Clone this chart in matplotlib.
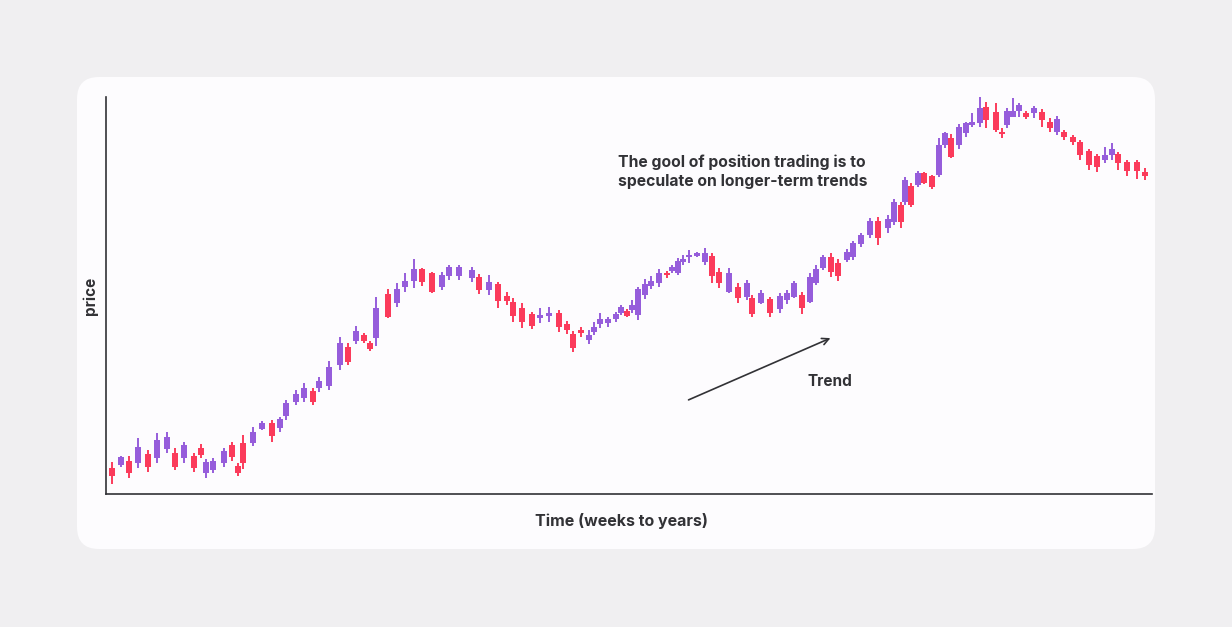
import matplotlib
matplotlib.use("Agg")
import matplotlib.pyplot as plt
from matplotlib.patches import FancyBboxPatch
from matplotlib.transforms import IdentityTransform

# time index and OHLC prices (arbitrary units)
t = [6, 15, 23, 32, 42, 51, 61, 69, 78, 88, 95, 100, 107, 118, 126, 132, 137, 147, 156, 166,
     174, 180, 190, 198, 207, 213, 223, 234, 242, 250, 258, 264, 270, 282, 291, 299, 308, 316, 326, 336,
     343, 353, 366, 373, 383, 392, 401, 407, 416, 426, 434, 443, 453, 461, 467, 475, 483, 488, 494, 502,
     510, 515, 521, 526, 532, 539, 545, 553, 561, 566, 572, 577, 583, 591, 599, 606, 613, 623, 632, 641,
     646, 655, 664, 674, 681, 688, 696, 704, 710, 717, 725, 732, 741, 747, 755, 764, 772, 782, 788, 795,
     799, 805, 812, 818, 826, 833, 839, 845, 853, 860, 866, 874, 880, 890, 896, 901, 907, 913, 920, 928,
     936, 944, 951, 958, 967, 974, 983, 991, 999, 1006, 1012, 1021, 1031, 1039]
open_ = [26, 29, 33, 31, 40, 36, 45, 41, 36, 38, 46, 21, 24, 31, 49, 28, 51, 51, 65, 71,
         66, 78, 92, 96, 103, 106, 108, 129, 147, 153, 159, 151, 156, 200, 191, 207, 213, 225, 221, 207,
         218, 218, 216, 217, 204, 210, 198, 192, 186, 180, 176, 178, 181, 170, 160, 164, 154, 162, 170, 171,
         175, 181, 183, 184, 179, 199, 208, 211, 221, 223, 221, 232, 237, 238, 232, 238, 222, 202, 207, 197,
         196, 191, 195, 185, 194, 197, 199, 192, 211, 226, 237, 231, 234, 237, 250, 259, 273, 266, 272, 289,
         292, 308, 309, 321, 318, 319, 349, 356, 349, 361, 369, 371, 387, 382, 362, 369, 377, 383, 381, 381,
         382, 372, 362, 362, 357, 352, 343, 338, 334, 339, 340, 332, 332, 322]
close = [18, 37, 21, 47, 27, 54, 57, 27, 49, 26, 39, 32, 33, 43, 37, 21, 31, 62, 71, 58,
         75, 91, 100, 106, 92, 113, 127, 151, 132, 163, 153, 145, 186, 177, 205, 213, 225, 212, 202, 219,
         227, 227, 224, 204, 212, 193, 193, 178, 172, 168, 179, 181, 167, 164, 146, 161, 159, 167, 175, 175,
         180, 187, 178, 189, 205, 210, 213, 221, 219, 227, 233, 235, 239, 241, 241, 218, 211, 221, 196, 211,
         180, 201, 181, 198, 201, 211, 186, 217, 225, 237, 222, 218, 242, 251, 259, 273, 256, 275, 292, 272,
         314, 289, 321, 311, 307, 349, 361, 337, 367, 371, 372, 386, 374, 364, 360, 383, 383, 389, 377, 386,
         374, 366, 375, 357, 352, 339, 329, 327, 339, 345, 331, 323, 323, 318]
high = [32, 38, 38, 56, 44, 61, 62, 46, 52, 41, 50, 35, 36, 46, 52, 31, 59, 67, 73, 74,
        77, 94, 104, 111, 106, 117, 133, 157, 151, 168, 161, 153, 197, 205, 211, 221, 235, 226, 222, 222,
        229, 229, 227, 220, 219, 212, 202, 196, 191, 182, 186, 187, 184, 173, 163, 167, 164, 172, 181, 177,
        182, 189, 185, 194, 207, 215, 218, 225, 223, 229, 236, 239, 244, 242, 246, 241, 226, 226, 211, 214,
        199, 204, 197, 201, 204, 213, 202, 221, 229, 239, 241, 235, 245, 253, 261, 276, 277, 279, 295, 292,
        317, 311, 323, 322, 319, 356, 362, 360, 370, 372, 381, 397, 392, 391, 366, 386, 396, 391, 383, 388,
        385, 376, 378, 364, 359, 354, 345, 340, 347, 351, 342, 334, 334, 326]
low = [10, 27, 16, 26, 22, 31, 41, 24, 31, 22, 36, 16, 21, 27, 33, 18, 25, 48, 64, 52,
       62, 74, 89, 92, 89, 102, 104, 124, 129, 150, 151, 143, 148, 176, 187, 202, 206, 208, 201, 204,
       214, 214, 212, 200, 199, 186, 189, 172, 166, 165, 171, 172, 162, 160, 142, 157, 150, 159, 166, 167,
       172, 179, 177, 181, 174, 195, 205, 207, 216, 221, 219, 229, 231, 237, 229, 211, 206, 201, 191, 194,
       177, 190, 177, 181, 190, 196, 180, 191, 209, 224, 217, 213, 232, 234, 247, 256, 249, 261, 269, 266,
       289, 287, 307, 310, 305, 317, 346, 336, 345, 357, 367, 367, 366, 362, 356, 366, 377, 377, 375, 376,
       367, 362, 359, 354, 349, 334, 324, 322, 331, 334, 324, 318, 315, 314]

up_color = '#965ddb'
down_color = '#fb3b5b'
text_color = '#323236'

plt.rcParams['font.family'] = ['Inter', 'DejaVu Sans']

fig = plt.figure(figsize=(12.32, 6.27), dpi=100)
fig.patch.set_facecolor('#f0eff1')

# rounded white card behind the chart
card = FancyBboxPatch((77, 78), 1078, 472, boxstyle='round,pad=0,rounding_size=22',
                      transform=IdentityTransform(), facecolor='#fdfcfe', edgecolor='none', zorder=-5)
fig.patches.append(card)

ax = fig.add_axes([106 / 1232, 1 - 494 / 627, 1046 / 1232, 397 / 627])
ax.set_facecolor('none')
ax.set_zorder(2)

for ti, o, c, h, l in zip(t, open_, close, high, low):
    col = up_color if c >= o else down_color
    ax.vlines(ti, l, h, color=col, linewidth=1.4, zorder=2)
    lo_b = min(o, c)
    hgt = max(abs(c - o), 2)
    ax.bar(ti, hgt, bottom=lo_b, width=6.4, color=col, zorder=3, linewidth=0)

ax.set_xlim(0, 1046)
ax.set_ylim(0, 397)
ax.set_xticks([])
ax.set_yticks([])
for side in ['top', 'right']:
    ax.spines[side].set_visible(False)
for side in ['left', 'bottom']:
    ax.spines[side].set_color(text_color)
    ax.spines[side].set_linewidth(1.2)

ax.set_xlabel('Time (weeks to years)', fontsize=11.5, fontweight='bold', color=text_color)
ax.xaxis.set_label_coords(0.4933, -0.048)
ax.set_ylabel('price', fontsize=11, fontweight='bold', color=text_color, labelpad=6)

ax.text(512, 322, 'The gool of position trading is to\nspeculate on longer-term trends',
        fontsize=11.3, fontweight='bold', color=text_color, ha='left', va='center', linespacing=1.3)
ax.text(724, 112, 'Trend', fontsize=11, fontweight='bold', color=text_color, ha='center', va='center')
ax.annotate('', xy=(727, 157), xytext=(580, 93),
            arrowprops=dict(arrowstyle='->', color=text_color, lw=1.2, mutation_scale=12))

plt.savefig('out.png', dpi=100, facecolor=fig.get_facecolor())
